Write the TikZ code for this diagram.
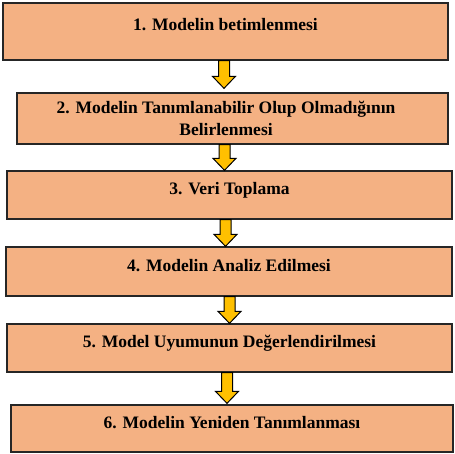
\documentclass[tikz,border=0pt]{standalone}
\usepackage{fontspec}
\setmainfont{Liberation Serif}
\usetikzlibrary{calc}
\definecolor{boxfill}{HTML}{F4B183}
\definecolor{arrowfill}{HTML}{FFC000}
\newcommand\fatarr[4]{%
  \filldraw[fatarrow] let \p1=(#1.south), \p2=(#2.north) in
    ({#3pt-5.5pt},\y1) -- ({#3pt-5.5pt},{\y2+#4pt+12pt}) -- ({#3pt-11.5pt},{\y2+#4pt+12pt})
    -- ({#3pt},{\y2+#4pt}) -- ({#3pt+11.5pt},{\y2+#4pt+12pt}) -- ({#3pt+5.5pt},{\y2+#4pt+12pt})
    -- ({#3pt+5.5pt},\y1) -- cycle;}
\begin{document}
\begin{tikzpicture}[x=1pt,y=1pt,
  stepbox/.style={draw=black!85, line width=1.3pt, fill=boxfill,
    font=\fontsize{17.5}{22}\selectfont\bfseries, inner sep=0pt},
  oneline/.style={text height=6pt, text depth=6pt},
  fatarrow/.style={draw=black, line width=1pt, fill=arrowfill, line join=miter}]
\useasboundingbox (0,0) rectangle (455,454);
\node[stepbox, text height=5pt, text depth=7pt, minimum width=445, minimum height=57] (b1) at (225.5,422.5) {1. Modelin betimlenmesi};
\node[stepbox, minimum width=431, minimum height=51, align=center] (b2) at (232.5,335.5) {2. Modelin Tanımlanabilir Olup Olmadığının\hspace*{13pt}\\Belirlenmesi\hspace*{13pt}};
\node[stepbox, oneline, minimum width=445, minimum height=48] (b3) at (229.5,259) {3. Veri Toplama};
\node[stepbox, oneline, minimum width=446, minimum height=49] (b4) at (229,182.5) {4. Modelin Analiz Edilmesi};
\node[stepbox, oneline, minimum width=445, minimum height=48] (b5) at (229.5,106) {5. Model Uyumunun Değerlendirilmesi};
\node[stepbox, oneline, minimum width=442, minimum height=47] (b6) at (232,25.5) {6. Modelin Yeniden Tanımlanması};
\fatarr{b1}{b2}{224}{4}
\fatarr{b2}{b3}{224.5}{0}
\fatarr{b3}{b4}{225.5}{0}
\fatarr{b4}{b5}{229.5}{0}
\fatarr{b5}{b6}{227}{1}
\end{tikzpicture}
\end{document}
